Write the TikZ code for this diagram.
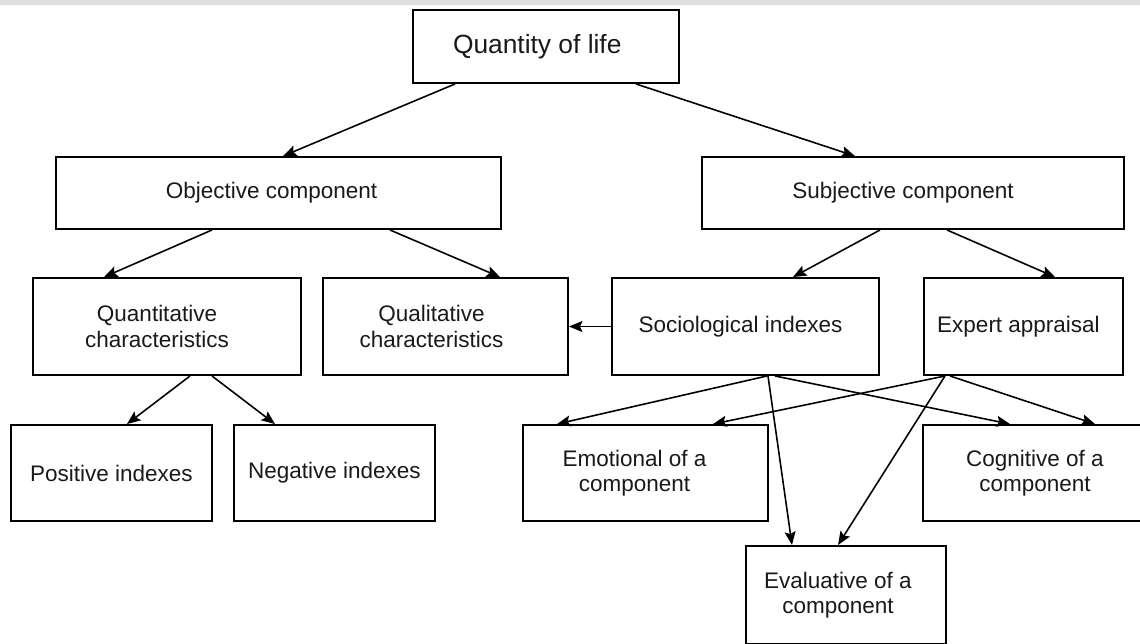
\documentclass[tikz,border=0pt]{standalone}
\usepackage{fontspec}
\setmainfont{Liberation Sans}
\usetikzlibrary{arrows.meta}

\begin{document}
\begin{tikzpicture}[
    every node/.style = {
      shape=rectangle,
      draw,
      line width=1.1pt,
      align=center,
      inner sep=0pt,
      text=black!90,
      font=\fontsize{12.8}{14.5}\selectfont
    },
    arrow/.style = {
      -{Stealth[length=0.27cm,width=0.22cm,inset=0.05cm]},
      line width=0.9pt
    }
  ]

    % frame and grey strip on top
    \useasboundingbox (0,0) rectangle (22.8,-12.86);
    \fill[gray!25] (0,0) rectangle (22.8,-0.1);

    % Top node
    \node[minimum width=5.32cm, minimum height=1.46cm, text depth=0.1cm, font=\fontsize{15}{18}\selectfont]
      (life) at (10.92,-0.93) {Quantity of life\hspace*{0.35cm}};

    % Second row
    \node[minimum width=8.9cm,  minimum height=1.44cm] (objective)  at (5.57,-3.86)  {Objective component\hspace*{0.28cm}};
    \node[minimum width=8.44cm, minimum height=1.44cm] (subjective) at (18.26,-3.86) {Subjective component\hspace*{0.4cm}};

    % Third row
    \node[minimum width=5.36cm, minimum height=1.94cm] (quantitative) at (3.34,-6.53)  {Quantitative\hspace*{0.4cm}\\characteristics\hspace*{0.4cm}};
    \node[minimum width=4.9cm,  minimum height=1.94cm] (qualitative)  at (8.91,-6.53)  {Qualitative\hspace*{0.56cm}\\characteristics\hspace*{0.56cm}};
    \node[minimum width=5.34cm, minimum height=1.94cm] (sociological) at (14.91,-6.53) {Sociological indexes\hspace*{0.2cm}};
    \node[minimum width=3.98cm, minimum height=1.94cm] (expert)       at (20.47,-6.53) {Expert appraisal\hspace*{0.2cm}};

    % Fourth row
    \node[minimum width=4.02cm, minimum height=1.92cm] (positive)  at (2.23,-9.46)  {Positive indexes};
    \node[minimum width=4.02cm, minimum height=1.92cm] (negative)  at (6.69,-9.46)  {Negative indexes};
    \node[minimum width=4.9cm,  minimum height=1.92cm] (emotional) at (12.91,-9.46) {Emotional of a\hspace*{0.44cm}\\component\hspace*{0.44cm}};
    \node[minimum width=4.48cm, minimum height=1.92cm] (cognitive) at (20.7,-9.46)  {Cognitive of a\\component};

    % Bottom node
    \node[minimum width=4.0cm, minimum height=1.96cm] (evaluative) at (16.92,-11.9) {Evaluative of a\hspace*{0.32cm}\\component\hspace*{0.32cm}};

    % Arrows
    \draw[arrow] ([xshift=-1.82cm]life.south) -- ([xshift=0.09cm]objective.north);
    \draw[arrow] ([xshift=1.8cm]life.south) -- ([xshift=-1.16cm]subjective.north);
    \draw[arrow] ([xshift=-1.33cm]objective.south) -- ([xshift=-1.26cm]quantitative.north);
    \draw[arrow] ([xshift=2.23cm]objective.south) -- ([xshift=1.09cm]qualitative.north);
    \draw[arrow] ([xshift=-0.66cm]subjective.south) -- ([xshift=0.95cm]sociological.north);
    \draw[arrow] ([xshift=0.68cm]subjective.south) -- ([xshift=0.63cm]expert.north);
    \draw[arrow] (sociological.west) -- (qualitative.east);
    \draw[arrow] ([xshift=0.46cm]quantitative.south) -- ([xshift=0.31cm]positive.north);
    \draw[arrow] ([xshift=0.9cm]quantitative.south) -- ([xshift=-1.19cm]negative.north);
    \draw[arrow] ([xshift=0.43cm]sociological.south) -- ([xshift=-1.77cm]emotional.north);
    \draw[arrow] ([xshift=0.59cm]sociological.south) -- ([xshift=-0.5cm]cognitive.north);
    \draw[arrow] ([xshift=0.45cm]sociological.south) -- ([xshift=-1.08cm]evaluative.north);
    \draw[arrow] ([xshift=-1.57cm]expert.south) -- ([xshift=1.35cm]emotional.north);
    \draw[arrow] ([xshift=-1.47cm]expert.south) -- ([xshift=1.2cm]cognitive.north);
    \draw[arrow] ([xshift=-1.57cm]expert.south) -- ([xshift=-0.16cm]evaluative.north);

  \end{tikzpicture}
\end{document}
